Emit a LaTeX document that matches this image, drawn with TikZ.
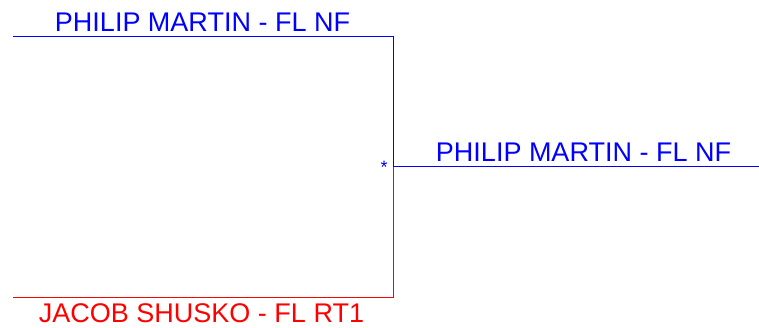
\documentclass[tikz,border=0pt]{standalone}
\usepackage{fontspec}
\setmainfont{Liberation Sans}
\begin{document}
\begin{tikzpicture}[x=1pt,y=-1pt,
  lbl/.style={inner sep=0pt,anchor=base,font=\fontsize{27}{30}\selectfont},
  wire/.style={line width=0.9pt}]
\useasboundingbox (0,0) rectangle (759,327);
\coordinate (tl) at (13,36);
\coordinate (tr) at (393.5,36);
\coordinate (mid) at (393.5,166.7);
\coordinate (bl) at (13,297.3);
\coordinate (br) at (393.5,297.3);
\coordinate (out) at (759,166.7);
\node[lbl,text=blue] (top) at (202.5,31) {PHILIP MARTIN - FL NF};
\node[lbl,text=blue] (win) at (583.5,161) {PHILIP MARTIN - FL NF};
\node[lbl,text=red] (bot) at (201.5,322) {JACOB SHUSKO - FL RT1};
\node[inner sep=0pt,text=blue,font=\fontsize{18}{20}\selectfont] (star) at (384,167) {*};
\draw[wire,blue] (tl) -- (tr) -- (mid) -- (out);
\draw[wire,red] (bl) -- (br) -- (mid);
\end{tikzpicture}
\end{document}
